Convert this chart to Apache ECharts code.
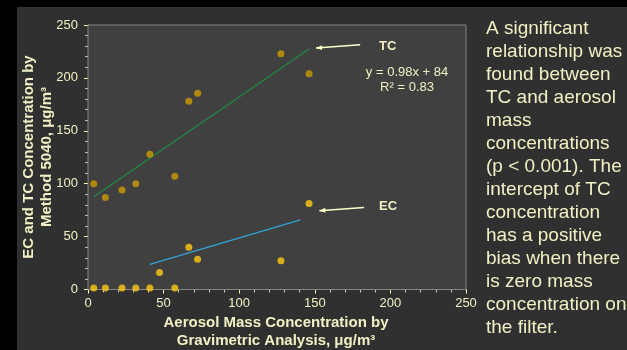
<!DOCTYPE html>
<html>
<head>
<meta charset="utf-8">
<script src="https://cdn.jsdelivr.net/npm/echarts@6/dist/echarts.min.js"></script>
<style>
  html, body { margin: 0; padding: 0; background: #000; }
  #chart { width: 627px; height: 350px; }
</style>
</head>
<body>
<div id="chart"></div>
<script>
// data
const massX = [3.8, 11.5, 22.5, 31.6, 40.9, 47.3, 57.4, 66.7, 72.5, 127.6, 146.2];
const tcY = [100, 87, 94, 100, 127.8, null, 107, 178, 185.5, 222.8, 204];
const ecY = [1.5, 1.5, 1.5, 1.5, 1.5, 16, 1.5, 40, 28.5, 27.2, 81.3];
const tcFitX = [3.8, 146.2];
const tcFitY = [87.7, 227.3];
const ecFitX = [40.9, 140.4];
const ecFitY = [23.7, 65.8];
const axisTicks = [0, 50, 100, 150, 200, 250];

const noteLines = [
  'A significant', 'relationship was', 'found between', 'TC and aerosol',
  'mass', 'concentrations', '(p < 0.001). The', 'intercept of TC',
  'concentration', 'has a positive', 'bias when there', 'is zero mass',
  'concentration on', 'the filter.'
];

const cream = '#f2f0c4';
const font = '"Liberation Sans", Arial, sans-serif';

const pairs = (xs, ys) => xs.map((x, i) => [x, ys[i]]).filter(p => p[1] != null);

const axisCommon = {
  type: 'value',
  min: axisTicks[0],
  max: axisTicks[axisTicks.length - 1],
  interval: axisTicks[1] - axisTicks[0],
  axisLine: { show: true, lineStyle: { color: '#ffffcc', width: 1 } },
  axisTick: { show: true, inside: false, length: 4, lineStyle: { color: '#ffffcc' } },
  minorTick: { show: true, splitNumber: 5, length: 3, lineStyle: { color: '#c8c8a8' } },
  splitLine: { show: false },
  axisLabel: { color: cream, fontSize: 13, fontFamily: font }
};

const chart = echarts.init(document.getElementById('chart'));
const option = {
  backgroundColor: '#000',
  animation: false,
  grid: {
    left: 88, right: 161, top: 25, bottom: 60.5,
    show: true, backgroundColor: '#404040', borderColor: '#858585', borderWidth: 1,
    z: 1
  },
  xAxis: Object.assign({}, axisCommon, {
    axisLabel: Object.assign({}, axisCommon.axisLabel, { margin: 7 })
  }),
  yAxis: Object.assign({}, axisCommon, {
    axisLabel: Object.assign({}, axisCommon.axisLabel, { margin: 10 })
  }),
  series: [
    {
      name: 'TC fit', type: 'line', data: pairs(tcFitX, tcFitY),
      symbol: 'none', lineStyle: { color: '#1d8a45', width: 1.2 }, z: 3
    },
    {
      name: 'EC fit', type: 'line', data: pairs(ecFitX, ecFitY),
      symbol: 'none', lineStyle: { color: '#33a3d8', width: 1.2 }, z: 3
    },
    {
      name: 'TC', type: 'scatter', data: pairs(massX, tcY),
      symbolSize: 7, itemStyle: { color: '#cc9a00' }, z: 4
    },
    {
      name: 'EC', type: 'scatter', data: pairs(massX, ecY),
      symbolSize: 7, itemStyle: { color: '#ffcc11' }, z: 4
    }
  ]
};
chart.setOption(option);

// annotations placed through the axes
const px = (x, y) => chart.convertToPixel({ gridIndex: 0 }, [x, y]);
const arrow = (from, to) => {
  const a = px(from[0], from[1]), b = px(to[0], to[1]);
  const ang = Math.atan2(b[1] - a[1], b[0] - a[0]);
  const h = 6, w = 2.5;
  const p1 = [b[0] - h * Math.cos(ang) + w * Math.sin(ang), b[1] - h * Math.sin(ang) - w * Math.cos(ang)];
  const p2 = [b[0] - h * Math.cos(ang) - w * Math.sin(ang), b[1] - h * Math.sin(ang) + w * Math.cos(ang)];
  return [
    { type: 'line', shape: { x1: a[0], y1: a[1], x2: b[0], y2: b[1] }, style: { stroke: '#ffffcc', lineWidth: 1.5 }, z: 10 },
    { type: 'polygon', shape: { points: [b, p1, p2] }, style: { fill: '#ffffcc' }, z: 10 }
  ];
};
const label = (x, y, text, extra) => {
  const p = px(x, y);
  return {
    type: 'text', x: p[0], y: p[1], z: 10,
    style: Object.assign({ text: text, fill: cream, font: '13px ' + font, align: 'center', verticalAlign: 'middle' }, extra || {})
  };
};

const graphics = [
  { type: 'rect', shape: { x: 17, y: 7, width: 610, height: 343 }, style: { fill: '#303030' }, z: -10 },
  { type: 'text', x: 38, y: 157, rotation: Math.PI / 2, z: 10,
    style: { text: 'EC and TC Concentration by\nMethod 5040, μg/m³', fill: cream, font: 'bold 15px ' + font,
      align: 'center', verticalAlign: 'middle', lineHeight: 18 } },
  { type: 'text', x: 276, y: 332, z: 10,
    style: { text: 'Aerosol Mass Concentration by\nGravimetric Analysis, μg/m³', fill: cream, font: 'bold 15px ' + font,
      align: 'center', verticalAlign: 'middle', lineHeight: 18 } },
  { type: 'text', x: 486, y: 17, z: 10,
    style: { text: noteLines.join('\n'), fill: cream, font: '19px ' + font, lineHeight: 23, align: 'left', verticalAlign: 'top' } }
].concat(
  arrow([180, 231.3], [150.8, 228.2]),
  arrow([182.6, 77.5], [153, 74.4]),
  [
    label(192.5, 230, 'TC', { font: 'bold 13px ' + font, align: 'left' }),
    label(192.5, 78.5, 'EC', { font: 'bold 13px ' + font, align: 'left' }),
    label(211, 205.4, 'y = 0.98x + 84'),
    label(211, 191, 'R² = 0.83')
  ]
);
chart.setOption({ graphic: graphics });
</script>
</body>
</html>
